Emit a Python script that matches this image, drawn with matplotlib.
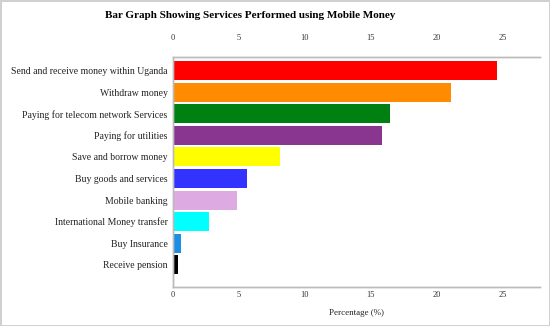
import matplotlib
matplotlib.use("Agg")
import matplotlib.pyplot as plt

# Data (top to bottom)
services = [
    "Send and receive money within Uganda",
    "Withdraw money",
    "Paying for telecom network Services",
    "Paying for utilities",
    "Save and borrow money",
    "Buy goods and services",
    "Mobile banking",
    "International Money transfer",
    "Buy Insurance",
    "Receive pension",
]
percentages = [24.6, 21.1, 16.5, 15.85, 8.1, 5.6, 4.85, 2.75, 0.6, 0.35]
bar_colors = ["#FF0000", "#FF8C00", "#008010", "#88368F", "#FFFF00",
              "#3333FF", "#DDAAE2", "#00FFFF", "#1A8FE3", "#000000"]
x_ticks = [0, 5, 10, 15, 20, 25]

plt.rcParams["font.family"] = ["Liberation Serif", "DejaVu Serif"]

fig = plt.figure(figsize=(5.5, 3.26), dpi=100)
fig.patch.set_edgecolor("#d0d0d0")
fig.patch.set_linewidth(1.0)

ax = fig.add_axes([173 / 550, 1 - 287 / 326, 367 / 550, 230 / 326])
ypos = list(range(len(services)))
ax.barh(ypos, percentages, height=0.88, color=bar_colors)

ax.set_xlim(0, 27.85)
ax.set_ylim(len(services) - 1 + 1.03, -0.63)
ax.set_yticks(ypos)
ax.set_yticklabels(services, fontsize=7, color="#222222")
ax.set_xticks(x_ticks)
ax.set_xticklabels([str(t) for t in x_ticks], fontsize=6, color="#333333")
ax.tick_params(axis="x", length=0, pad=3)
ax.tick_params(axis="y", length=0, pad=4)

# top axis labels sit further from the frame
ax_top = ax.twiny()
ax_top.set_xlim(ax.get_xlim())
ax_top.set_xticks(x_ticks)
ax_top.set_xticklabels([str(t) for t in x_ticks], fontsize=6, color="#333333")
ax_top.tick_params(axis="x", length=0, pad=11)

for a in (ax, ax_top):
    for side in ["left", "bottom", "top"]:
        a.spines[side].set_color("#bbbbbb")
        a.spines[side].set_linewidth(1.0)
    a.spines["right"].set_visible(False)

ax.set_xlabel("Percentage (%)", fontsize=6.5, color="#222222", labelpad=7)

fig.text(250 / 550, 1 - 15 / 326, "Bar Graph Showing Services Performed using Mobile Money",
         ha="center", va="center", fontsize=8, fontweight="bold")

fig.savefig("out.png", dpi=100)
